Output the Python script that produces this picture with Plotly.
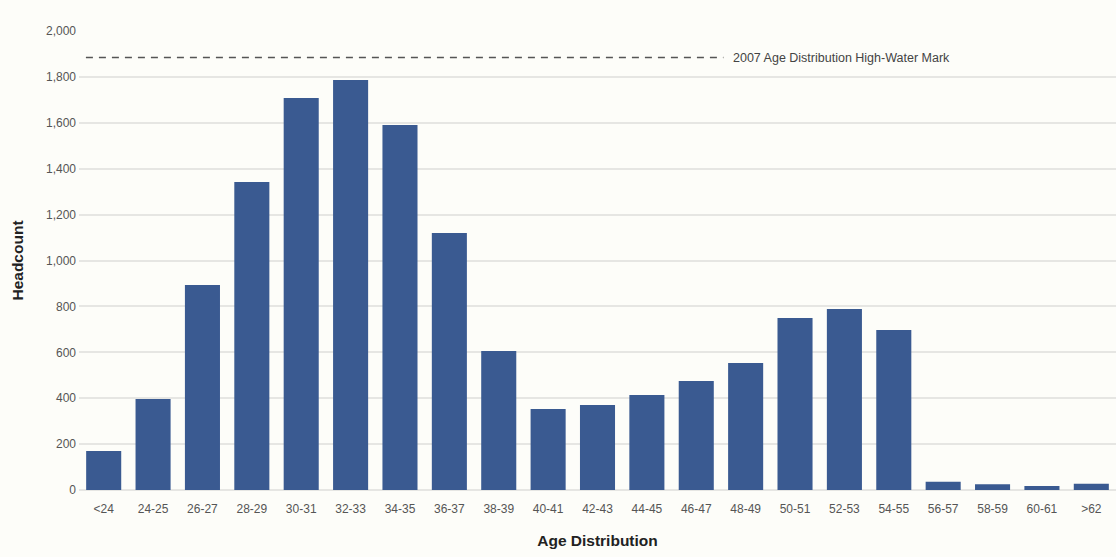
import plotly.graph_objects as go

# Age bands and headcount per band
age_bands = ["<24", "24-25", "26-27", "28-29", "30-31", "32-33", "34-35", "36-37",
             "38-39", "40-41", "42-43", "44-45", "46-47", "48-49", "50-51", "52-53",
             "54-55", "56-57", "58-59", "60-61", ">62"]
headcount = [170, 396, 893, 1342, 1708, 1786, 1590, 1120,
             606, 353, 370, 414, 475, 553, 749, 789,
             697, 36, 25, 17, 27]

# 2007 high-water mark reference level
high_water_mark = 1884
high_water_label = "2007 Age Distribution High-Water Mark"

y_ticks = [0, 200, 400, 600, 800, 1000, 1200, 1400, 1600, 1800, 2000]

BG = "#fdfdf9"
BAR = "#3a5a91"
GRID = "#e6e6e3"
TICK = "#555555"

fig = go.Figure()
fig.add_trace(go.Bar(
    x=list(range(len(age_bands))),
    y=headcount,
    marker=dict(color=BAR, line=dict(width=0)),
    hoverinfo="x+y",
))

# dashed high-water line with its label
fig.add_shape(
    type="line", xref="x", yref="y",
    x0=-0.36, x1=12.55, y0=high_water_mark, y1=high_water_mark,
    line=dict(color="#555555", width=1.5, dash="7px,6px"),
)
fig.add_annotation(
    x=12.7, y=high_water_mark, xref="x", yref="y",
    text=high_water_label, showarrow=False, xanchor="left", yanchor="middle",
    font=dict(family="Liberation Sans, Arial", size=12.5, color="#444444"),
)

fig.update_layout(
    width=1116, height=557,
    paper_bgcolor=BG, plot_bgcolor=BG,
    margin=dict(l=79, r=0, t=31, b=67),
    bargap=0.29,
    showlegend=False,
    font=dict(family="Liberation Sans, Arial", color=TICK),
    xaxis=dict(
        tickmode="array",
        tickvals=list(range(len(age_bands))),
        ticktext=age_bands,
        range=[-0.5, len(age_bands) - 0.5],
        showgrid=False, zeroline=False, showline=False,
        ticks="", tickfont=dict(size=12, color=TICK),
        ticklabelstandoff=10,
        title=dict(text="<b>Age Distribution</b>", standoff=20,
                   font=dict(size=15.5, color="#222222")),
    ),
    yaxis=dict(
        range=[0, 2000],
        tickmode="array",
        tickvals=y_ticks,
        ticktext=[f"{v:,}" for v in y_ticks],
        showgrid=True, gridcolor=GRID, gridwidth=1.5,
        zeroline=True, zerolinecolor=GRID, zerolinewidth=1.5,
        showline=False, ticks="",
        tickfont=dict(size=12, color=TICK),
        ticklabelstandoff=2,
        title=dict(text="<b>Headcount</b>", standoff=18,
                   font=dict(size=15.5, color="#222222")),
    ),
)

fig.write_html("out.html")
